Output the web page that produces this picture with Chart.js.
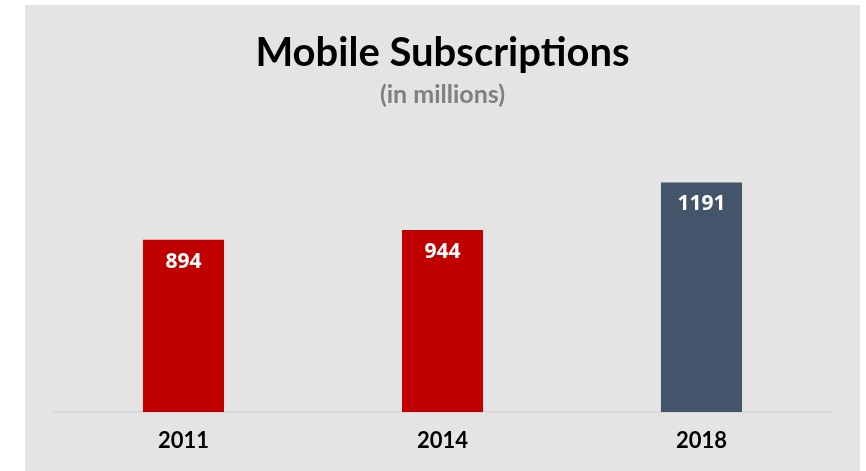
<!DOCTYPE html>
<html>
<head>
<meta charset="utf-8">
<script src="https://cdn.jsdelivr.net/npm/chart.js@4"></script>
<style>
    html, body { margin: 0; padding: 0; background: #ffffff; }
    #panel {
        position: absolute;
        left: 25px;
        top: 5px;
        width: 835px;
        height: 466px;
        background: #e4e4e4;
    }
</style>
</head>
<body>
<div id="panel"><canvas id="subs-chart" width="835" height="466"></canvas></div>
<script>
const years = ['2011', '2014', '2018'];
const subscriptions = [894, 944, 1191];
const barColors = ['#c00000', '#c00000', '#44546a'];

// white value labels just inside the top of each bar
const valueLabels = {
    id: 'valueLabels',
    afterDatasetsDraw(chart) {
        const ctx = chart.ctx;
        const meta = chart.getDatasetMeta(0);
        ctx.save();
        ctx.fillStyle = '#ffffff';
        ctx.font = 'bold 21px "Open Sans"';
        ctx.textAlign = 'center';
        ctx.textBaseline = 'middle';
        meta.data.forEach((bar, i) => {
            ctx.fillText(String(subscriptions[i]), bar.x, bar.y + 22);
        });
        ctx.restore();
    }
};

new Chart(document.getElementById('subs-chart'), {
    type: 'bar',
    data: {
        labels: years,
        datasets: [{
            data: subscriptions,
            backgroundColor: barColors,
            borderWidth: 0,
            categoryPercentage: 1,
            barPercentage: 0.313
        }]
    },
    options: {
        responsive: false,
        animation: false,
        layout: { padding: { left: 29, right: 29, top: 0, bottom: 0 } },
        plugins: {
            legend: { display: false },
            tooltip: { enabled: false },
            title: {
                display: true,
                text: 'Mobile Subscriptions',
                color: '#000000',
                font: { family: 'Lato', size: 40, weight: 'bold', lineHeight: 1.2 },
                padding: { top: 24, bottom: 0 }
            },
            subtitle: {
                display: true,
                text: '(in millions)',
                color: '#808080',
                font: { family: 'Lato', size: 25, weight: 'bold', lineHeight: 1.2 },
                padding: { top: 3, bottom: 35 }
            }
        },
        scales: {
            x: {
                grid: { display: false, drawTicks: false },
                border: { display: true, color: '#d8d8d8', width: 2 },
                ticks: {
                    color: '#000000',
                    padding: 16,
                    font: { family: 'Lato', size: 22, weight: 'bold' }
                },
                afterFit(scale) { scale.height = 59; }
            },
            y: {
                display: false,
                min: 0,
                max: 1385
            }
        }
    },
    plugins: [valueLabels]
});
</script>
</body>
</html>
